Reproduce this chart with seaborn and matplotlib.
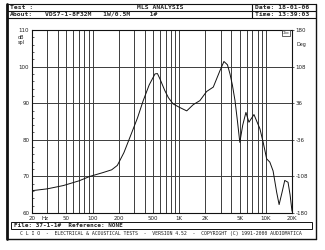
import numpy as np
import pandas as pd
import matplotlib
matplotlib.use("Agg")
import matplotlib.pyplot as plt
import seaborn as sns
from matplotlib.patches import Rectangle
from matplotlib.lines import Line2D

# ---------------- data ----------------
freq_hz = [20, 30, 46, 70, 93, 130, 166, 193, 230, 270, 330, 384, 450, 525, 560,
           600, 680, 750, 850, 1000, 1220, 1450, 1730, 2070, 2470, 2950, 3280,
           3600, 3850, 4100, 4400, 4700, 5000, 5400, 5880, 6370, 7280, 8530,
           9300, 10200, 11100, 12100, 13300, 14200, 15300, 16500, 18000, 19000, 20000]
spl_db = [66.1, 66.6, 67.5, 68.8, 70.0, 71.0, 71.8, 73.0, 76.5, 80.7, 86.0, 90.7,
          95.0, 98.0, 98.1, 96.6, 93.5, 91.5, 89.8, 88.9, 87.9, 89.6, 90.7, 93.2,
          94.4, 98.9, 101.4, 100.5, 98.0, 95.0, 90.7, 85.0, 79.3, 84.0, 87.5, 84.8,
          86.9, 83.0, 79.3, 74.8, 73.9, 71.5, 65.7, 62.3, 65.5, 68.9, 68.4, 65.0, 60.5]

x_tick_pos = [20, 28, 50, 100, 200, 500, 1000, 2000, 5000, 10000, 20000]
x_tick_lab = ["20", "Hz", "50", "100", "200", "500", "1K", "2K", "5K", "10K", "20K"]
y_ticks = [60, 70, 80, 90, 100, 110]
phase_ticks = [-180, -108, -36, 36, 108, 180]

df = pd.DataFrame({"freq": freq_hz, "spl": spl_db})

# ---------------- figure ----------------
sns.set_style("white")
plt.rcParams["font.family"] = ["DejaVu Sans"]
W, H = 325, 250
fig = plt.figure(figsize=(W / 100, H / 100), dpi=100)
fig.patch.set_facecolor("white")

def fx(px):
    return px / W

def fy(py):
    return 1 - py / H

L, R, T, B = 32, 292, 30, 213
ax = fig.add_axes([fx(L), fy(B), fx(R) - fx(L), fy(T) - fy(B)])

sns.lineplot(data=df, x="freq", y="spl", ax=ax, color="#111111", lw=0.7,
             estimator=None, sort=False)
ax.set_xscale("log")
ax.set_xlim(20, 20000)
ax.set_ylim(60, 110)
ax.set_xlabel("")
ax.set_ylabel("")

# grid
minor_x = [m * 10 ** e for e in range(1, 5) for m in range(1, 10)
           if 20 < m * 10 ** e < 20000]
for xv in minor_x:
    ax.axvline(xv, color="#3c3c3c", lw=0.7, zorder=0)
for yv in [70, 80, 90, 100]:
    ax.axhline(yv, color="#3c3c3c", lw=0.7, zorder=0)

ax.set_xticks(x_tick_pos)
ax.set_xticklabels(x_tick_lab)
ax.xaxis.set_minor_locator(matplotlib.ticker.NullLocator())
ax.tick_params(axis="x", length=0, labelsize=4, pad=2, colors="#222222")
ax.set_yticks(y_ticks)
ax.set_yticklabels([str(v) for v in y_ticks])
ax.set_yticks(np.arange(60, 111, 2), minor=True)
ax.tick_params(axis="y", which="major", length=0, labelsize=4, pad=2, colors="#222222")
ax.tick_params(axis="y", which="minor", length=1.2, direction="in", width=0.5)
for s in ax.spines.values():
    s.set_color("#111111")
    s.set_linewidth(0.8)

# phase axis on the right
ax2 = ax.twinx()
ax2.set_ylim(-180, 180)
ax2.set_yticks(phase_ticks)
ax2.set_yticklabels([str(v) for v in phase_ticks])
ax2.tick_params(axis="y", length=1.5, width=0.5, labelsize=4, pad=1, colors="#222222")
for s in ax2.spines.values():
    s.set_visible(False)

# axis unit labels
fig.text(fx(21), fy(40), "dB\nspl", fontsize=3.5, ha="center", va="center",
         linespacing=1.0, color="#222222")
fig.text(fx(301), fy(45), "Deg", fontsize=3.5, ha="center", va="center", color="#222222")

# Clio box
fig.patches.append(Rectangle((fx(282), fy(36)), fx(290) - fx(282), fy(30) - fy(36),
                             transform=fig.transFigure, fill=True, fc="white",
                             ec="#222222", lw=0.5, zorder=5))
fig.text(fx(286), fy(33), "Clio", fontsize=3, ha="center", va="center", zorder=6)

# ---------------- frames & header ----------------
mono = "DejaVu Sans Mono"

def hline(x0, x1, y, lw=0.8):
    fig.add_artist(Line2D([fx(x0), fx(x1)], [fy(y), fy(y)], color="#111111", lw=lw,
                          transform=fig.transFigure))

def vline(x, y0, y1, lw=0.8):
    fig.add_artist(Line2D([fx(x), fx(x)], [fy(y0), fy(y1)], color="#111111", lw=lw,
                          transform=fig.transFigure))

# outer frame
hline(7, 316, 4)
hline(7, 316, 239, lw=1.0)
vline(7, 4, 239, lw=2.0)
vline(316, 4, 239, lw=1.0)
# header rows
hline(7, 316, 11)
hline(7, 316, 18)
vline(252, 4, 18)

fig.text(fx(10), fy(7.5), "Test :", fontsize=4.6, family=mono, weight="bold",
         va="center", ha="left")
fig.text(fx(160), fy(7.5), "MLS ANALYSIS", fontsize=4.6, family=mono, weight="bold",
         va="center", ha="center")
fig.text(fx(255), fy(7.5), "Date: 18-01-06", fontsize=4.6, family=mono, weight="bold",
         va="center", ha="left")
fig.text(fx(10), fy(14.5), "About:", fontsize=4.6, family=mono, weight="bold",
         va="center", ha="left")
fig.text(fx(45), fy(14.5), "VDS7-1-8F32M   1W/0.5M     1#", fontsize=4.6,
         family=mono, weight="bold", va="center", ha="left")
fig.text(fx(255), fy(14.5), "Time: 13:39:03", fontsize=4.6, family=mono, weight="bold",
         va="center", ha="left")

# file row
fig.patches.append(Rectangle((fx(11), fy(229)), fx(312) - fx(11), fy(222) - fy(229),
                             transform=fig.transFigure, fill=False, ec="#111111", lw=0.7))
fig.text(fx(14), fy(225.5), "File: 37-1-1#  Reference: NONE", fontsize=4.3,
         family=mono, weight="bold", va="center", ha="left")
fig.text(fx(20), fy(234), "C L I O  -  ELECTRICAL & ACOUSTICAL TESTS  -  VERSION 4.52  -  "
         "COPYRIGHT (C) 1991-2000 AUDIOMATICA", fontsize=3.55, family=mono,
         va="center", ha="left", color="#222222")

fig.savefig("out.png", dpi=100, facecolor="white")
